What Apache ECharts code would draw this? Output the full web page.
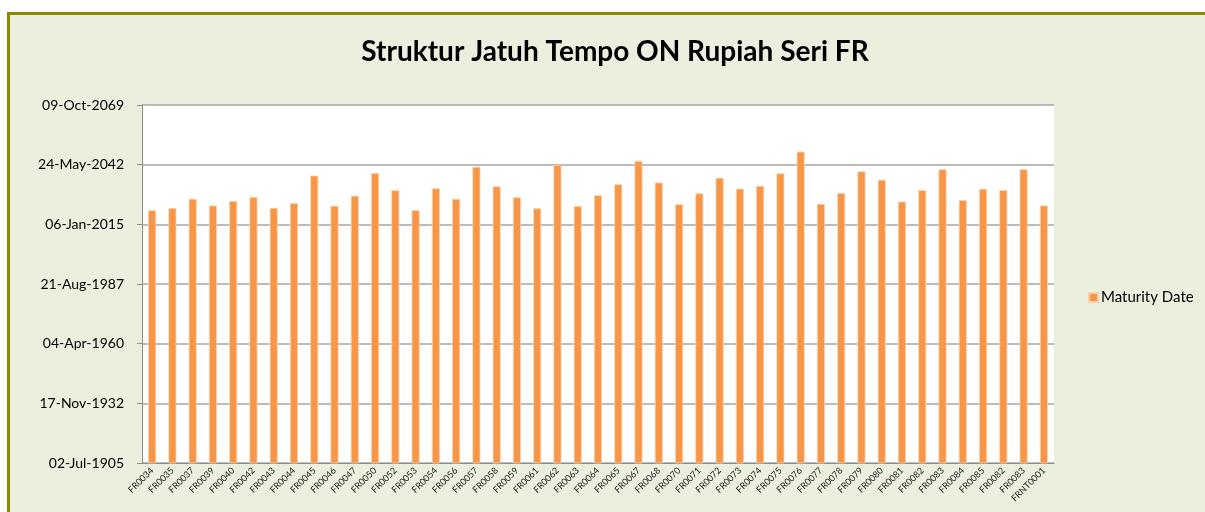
<!DOCTYPE html>
<html>
<head>
<meta charset="utf-8">
<script src="https://cdn.jsdelivr.net/npm/echarts@6/dist/echarts.min.js"></script>
<style>
  html, body { margin: 0; padding: 0; background: #ffffff; }
  #chart { width: 1205px; height: 512px; }
</style>
</head>
<body>
<div id="chart"></div>
<script>
// seri obligasi
const categories = ['FR0034','FR0035','FR0037','FR0039','FR0040','FR0042','FR0043','FR0044','FR0045','FR0046',
  'FR0047','FR0050','FR0052','FR0053','FR0054','FR0056','FR0057','FR0058','FR0059','FR0061',
  'FR0062','FR0063','FR0064','FR0065','FR0067','FR0068','FR0070','FR0071','FR0072','FR0073',
  'FR0074','FR0075','FR0076','FR0077','FR0078','FR0079','FR0080','FR0081','FR0082','FR0083',
  'FR0084','FR0085','FR0082','FR0083','FRNT0001'];
// tanggal jatuh tempo
const maturityDates = ['2021-06-15','2022-06-15','2026-09-15','2023-08-15','2025-09-15','2027-07-15','2022-07-15','2024-09-15','2037-05-15','2023-07-15',
  '2028-02-15','2038-07-15','2030-08-15','2021-07-15','2031-07-15','2026-09-15','2041-05-15','2032-06-15','2027-05-15','2022-05-15',
  '2042-04-15','2023-05-15','2028-05-15','2033-05-15','2044-02-15','2034-03-15','2024-03-15','2029-03-15','2036-05-15','2031-05-15',
  '2032-08-15','2038-05-15','2048-05-15','2024-05-15','2029-05-15','2039-04-15','2035-06-15','2025-06-15','2030-09-15','2040-04-15',
  '2026-02-15','2031-04-15','2030-09-15','2040-04-15','2023-08-15'];
// sumbu y (nomor seri tanggal Excel)
const yMin = 2010, yMax = 62010, yStep = 10000;

const MONTHS = ['Jan','Feb','Mar','Apr','May','Jun','Jul','Aug','Sep','Oct','Nov','Dec'];
const BASE = Date.UTC(1899, 11, 30);
function toSerial(s) {
  const p = s.split('-');
  return (Date.UTC(+p[0], +p[1] - 1, +p[2]) - BASE) / 86400000;
}
function fmtSerial(v) {
  const d = new Date(BASE + v * 86400000);
  const dd = String(d.getUTCDate()).padStart(2, '0');
  return dd + '-' + MONTHS[d.getUTCMonth()] + '-' + d.getUTCFullYear();
}

const font = 'Lato, "Open Sans", sans-serif';
const chart = echarts.init(document.getElementById('chart'));
chart.setOption({
  backgroundColor: '#ffffff',
  animation: false,
  textStyle: { fontFamily: font },
  graphic: [{
    type: 'rect', z: -10,
    shape: { x: 8.5, y: 13.5, width: 1220, height: 520 },
    style: { fill: '#EBEFDE', stroke: '#8A8A00', lineWidth: 3 }
  }, {
    type: 'rect', z: -5,
    shape: { x: 142, y: 105, width: 912, height: 358 },
    style: { fill: '#ffffff' }
  }],
  title: {
    text: 'Struktur Jatuh Tempo ON Rupiah Seri FR',
    left: 610, top: 33, textAlign: 'center',
    textStyle: { fontFamily: font, fontSize: 28, fontWeight: 'bold', color: '#000' }
  },
  legend: {
    left: 1083, top: 285, itemWidth: 9, itemHeight: 9, itemGap: 6,
    icon: 'rect',
    textStyle: { fontFamily: font, fontSize: 15, color: '#000', padding: [0, 0, 0, -2] },
    data: ['Maturity Date']
  },
  grid: { left: 142, right: 151, top: 105, bottom: 49 },
  xAxis: {
    type: 'category',
    data: categories,
    axisLine: { lineStyle: { color: '#8c8c8c', width: 1 } },
    axisTick: { alignWithLabel: false, length: 4, lineStyle: { color: '#8c8c8c' } },
    axisLabel: { interval: 0, rotate: 45, fontSize: 9, color: '#222', margin: 6 }
  },
  yAxis: {
    type: 'value',
    min: yMin, max: yMax, interval: yStep,
    axisLine: { show: true, lineStyle: { color: '#8c8c8c', width: 1 } },
    axisTick: { show: true, length: 5, lineStyle: { color: '#8c8c8c' } },
    splitLine: { lineStyle: { color: '#a6a6a6', width: 1.5 } },
    axisLabel: { fontSize: 14, color: '#000', margin: 18, formatter: fmtSerial }
  },
  series: [{
    name: 'Maturity Date',
    type: 'bar',
    barWidth: 8,
    data: maturityDates.map(toSerial),
    itemStyle: { color: '#F79646', borderColor: '#FBD0AC', borderWidth: 0.8 }
  }]
});
</script>
</body>
</html>
